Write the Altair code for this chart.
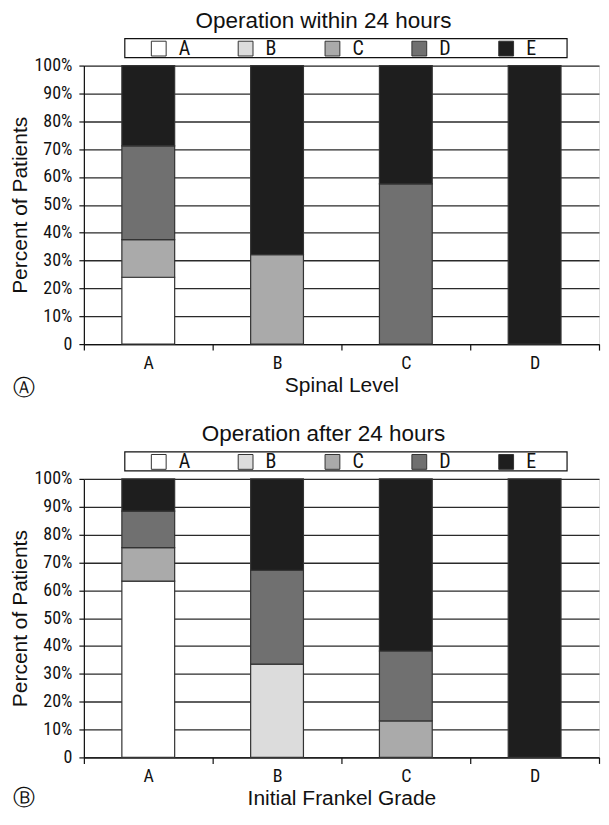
import altair as alt
import pandas as pd

# ---- data ----
grades = ["A", "B", "C", "D", "E"]
grade_colors = ["#ffffff", "#dcdcdc", "#aaaaaa", "#707070", "#1e1e1e"]
categories = ["A", "B", "C", "D"]

# Operation within 24 hours (percent of patients by Frankel grade), x = spinal level
within_A = [24.0, 0.0, 13.5, 33.7, 28.8]
within_B = [0.0, 0.0, 32.1, 0.0, 67.9]
within_C = [0.0, 0.0, 0.0, 57.5, 42.5]
within_D = [0.0, 0.0, 0.0, 0.0, 100.0]

# Operation after 24 hours, x = initial Frankel grade
after_A = [63.3, 0.0, 12.0, 13.1, 11.6]
after_B = [0.0, 33.5, 0.0, 33.7, 32.8]
after_C = [0.0, 0.0, 13.1, 25.1, 61.8]
after_D = [0.0, 0.0, 0.0, 0.0, 100.0]

y_ticks = [0, 10, 20, 30, 40, 50, 60, 70, 80, 90, 100]

NARROW = "Liberation Sans Narrow, Roboto Condensed, DejaVu Sans Condensed, sans-serif"
SANS = "Liberation Sans, Arial, sans-serif"

W = 516
H = 279


def build_df(rows):
    recs = []
    for cat, vals in zip(categories, rows):
        for i, (g, v) in enumerate(zip(grades, vals)):
            if v > 0:
                recs.append({"cat": cat, "grade": g, "idx": i, "value": v})
    return pd.DataFrame(recs)


def panel(rows, title, xtitle, letter, letter_dy):
    df = build_df(rows)
    bars = alt.Chart(df).mark_bar(
        width=alt.RelativeBandSize(0.41), stroke="#333333", strokeWidth=1.2
    ).encode(
        x=alt.X(
            "cat:N",
            sort=categories,
            scale=alt.Scale(paddingInner=0, paddingOuter=0),
            axis=alt.Axis(
                title=xtitle,
                labelAngle=0,
                labelFont=NARROW,
                labelFontSize=18,
                labelColor="#111111",
                labelPadding=4,
                tickBand="extent",
                tickSize=6,
                tickColor="#111111",
                tickWidth=1.2,
                domainColor="#111111",
                domainWidth=1.2,
                grid=False,
                titleFont=SANS,
                titleFontSize=21,
                titleFontWeight="normal",
                titleColor="#111111",
                titlePadding=2,
            ),
        ),
        y=alt.Y(
            "value:Q",
            stack="zero",
            scale=alt.Scale(domain=[0, 100], nice=False),
            axis=alt.Axis(
                title="Percent of Patients",
                values=y_ticks,
                labelExpr="datum.value == 0 ? '0' : datum.value + '%'",
                labelFont=NARROW,
                labelFontSize=18,
                labelColor="#111111",
                labelPadding=7,
                tickSize=5,
                tickColor="#111111",
                tickWidth=1.2,
                domainColor="#111111",
                domainWidth=1.2,
                grid=True,
                gridColor="#2a2a2a",
                gridWidth=1.3,
                titleFont=SANS,
                titleFontSize=21,
                titleFontWeight="normal",
                titleColor="#111111",
                titlePadding=3,
            ),
        ),
        color=alt.Color(
            "grade:N",
            scale=alt.Scale(domain=grades, range=grade_colors),
            legend=alt.Legend(
                title=None,
                orient="none",
                legendX=65,
                legendY=-27,
                direction="horizontal",
                columns=5,
                gridAlign="all",
                columnPadding=45,
                symbolType="square",
                symbolSize=220,
                symbolStrokeColor="#333333",
                symbolStrokeWidth=1,
                symbolOpacity=1,
                labelFont=NARROW,
                labelFontSize=20,
                labelColor="#111111",
                labelOffset=10,
                padding=0,
            ),
        ),
        order=alt.Order("idx:Q", sort="ascending"),
    )

    box = alt.Chart(pd.DataFrame({"k": [0]})).mark_rect(
        fill="white", stroke="#111111", strokeWidth=1.2
    ).encode(
        x=alt.value(41), x2=alt.value(484), y=alt.value(-27), y2=alt.value(-8)
    )

    tag = alt.Chart(pd.DataFrame({"t": [letter]})).mark_text(
        font="DejaVu Sans", fontSize=22, align="center", baseline="middle", color="#111111"
    ).encode(text="t:N", x=alt.value(-60), y=alt.value(H + letter_dy))

    return alt.layer(box, bars, tag).properties(
        width=W,
        height=H,
        title=alt.TitleParams(
            title, font=SANS, fontSize=22.5, fontWeight="normal", color="#111111",
            anchor="middle", offset=6, dx=-18
        ),
    )


top = panel([within_A, within_B, within_C, within_D],
            "Operation within 24 hours", "Spinal Level", "Ⓐ", 44)
bottom = panel([after_A, after_B, after_C, after_D],
               "Operation after 24 hours", "Initial Frankel Grade", "Ⓑ", 41)

chart = alt.vconcat(top, bottom, spacing=22).resolve_legend(
    color="independent"
).properties(
    padding={"left": 1, "top": 0, "right": 0, "bottom": 0}
).configure_view(stroke=None).configure(background="white")

chart.save("out.html", embed_options={"renderer": "svg", "actions": False})
